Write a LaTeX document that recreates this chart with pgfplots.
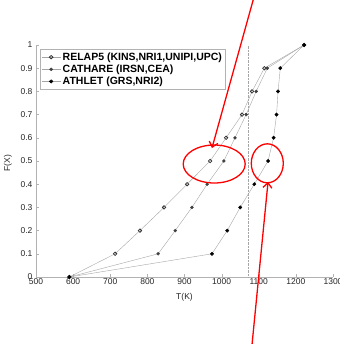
\documentclass[border=0pt]{standalone}
\usepackage{pgfplots}
\pgfplotsset{compat=1.18}
\usepackage{fontspec}
\setmainfont{Liberation Sans}
\usetikzlibrary{arrows.meta}
\begin{document}
\begin{tikzpicture}
\begin{axis}[
  scale only axis, width=297pt, height=232pt,
  xmin=500, xmax=1300, ymin=0, ymax=1,
  axis x line*=bottom, axis y line*=left,
  axis line style={gray!60, -},
  tick style={gray!60},
  tick align=inside, major tick length=3pt,
  xtick={500,600,700,800,900,1000,1100,1200,1300},
  ytick={0,0.1,0.2,0.3,0.4,0.5,0.6,0.7,0.8,0.9,1},
  yticklabels={0,0.1,0.2,0.3,0.4,0.5,0.6,0.7,0.8,0.9,1},
  /pgf/number format/1000 sep={},
  /pgf/number format/assume math mode=true,
  ticklabel style={font=\fontsize{8.5}{10}\selectfont, text=black!85},
  xticklabel style={yshift=1.5pt},
  xlabel={T(K)}, ylabel={F(X)},
  label style={font=\fontsize{8.5}{10}\selectfont, text=black!85},
  xlabel style={at={([yshift=-20pt]rel axis cs:0.5,0)}, anchor=center},
  ylabel style={at={([xshift=-28pt]rel axis cs:0,0.49)}, anchor=center},
  clip=false,
  legend cell align=left,
  legend image post style={xscale=1.1},
  legend style={at={(rel axis cs:0.013,0.983)}, anchor=north west,
    font=\bfseries\fontsize{10.5}{12}\selectfont, draw=gray!60, inner sep=1.5pt, row sep=-1pt},
]
\coordinate (O) at (rel axis cs:0,0);
\addplot[gray!70, mark=o, mark options={black!80, solid, mark size=1.7pt, line width=0.8pt}] coordinates {
 (590,0) (713,0.1) (780,0.2) (845,0.3) (907,0.4) (969,0.5) (1012,0.6) (1055,0.7) (1082,0.8) (1115,0.9) (1222,1)};
\addlegendentry{RELAP5 (KINS,NRI1,UNIPI,UPC)}
\addplot[gray!70, mark=*, mark options={black!75, fill=black!75, solid, mark size=1.5pt}] coordinates {
 (590,0) (829,0.1) (875,0.2) (920,0.3) (961,0.4) (1006,0.5) (1036,0.6) (1066,0.7) (1093,0.8) (1123,0.9) (1222,1)};
\addlegendentry{CATHARE (IRSN,CEA)}
\addplot[gray!70, mark=*, mark options={black, fill=black, solid, mark size=1.7pt}] coordinates {
 (590,0) (974,0.1) (1015,0.2) (1050,0.3) (1088,0.4) (1125,0.5) (1140,0.6) (1148,0.7) (1152,0.8) (1158,0.9) (1222,1)};
\addlegendentry{ATHLET (GRS,NRI2)}
\draw[gray!70, densely dotted] (axis cs:1072,0) -- (axis cs:1072,1);
\draw[red, line width=1.3pt] (axis cs:980,0.487) ellipse [x radius=31pt, y radius=19pt];
\draw[red, line width=1.3pt] (axis cs:1123,0.49) ellipse [x radius=16pt, y radius=19.5pt];
\draw[red, line width=1.3pt, -{Straight Barb[length=5pt,width=9pt]}] (axis cs:1085,1.194) -- (axis cs:974,0.556);
\draw[red, line width=1.3pt, -{Straight Barb[length=5pt,width=9pt]}] (axis cs:1082,-0.289) -- (axis cs:1125,0.41);
\end{axis}
\pgfresetboundingbox
\path (O) ++(-36pt,-67pt) rectangle ++(339pt,344pt);
\end{tikzpicture}
\end{document}
